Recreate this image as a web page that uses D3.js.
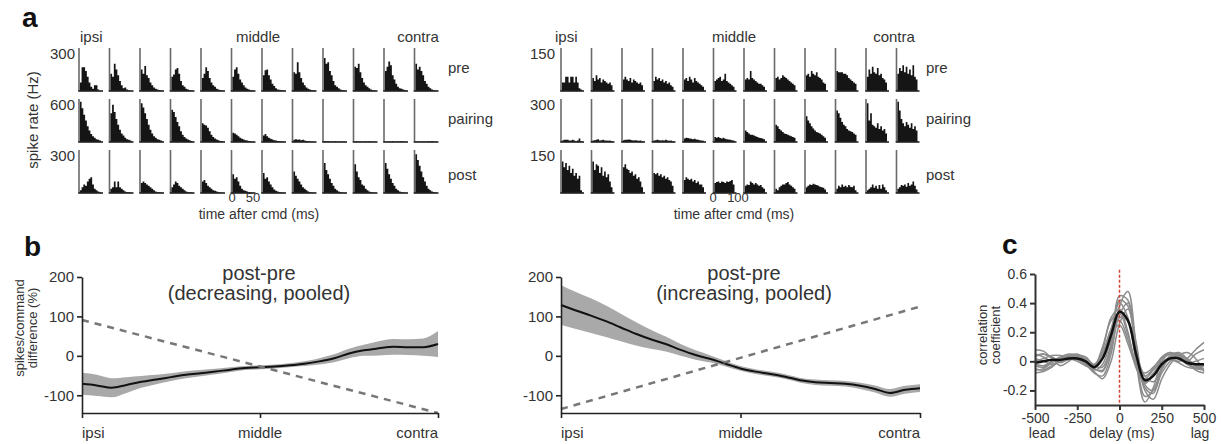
<!DOCTYPE html>
<html><head><meta charset="utf-8">
<script src="https://cdn.jsdelivr.net/npm/d3@7"></script>
<style>
body{margin:0;background:#fff;}
svg text{font-family:Arial,"Liberation Sans",sans-serif;fill:#333;}
</style></head><body>
<svg id="chart" width="1221" height="444"></svg>
<script>
// ---------- Panel a data (spike rate, Hz; 12 sites ipsi -> contra, 12 bins each) ----------
const rowLabels = ["pre", "pairing", "post"];
const siteLabels = ["ipsi", "middle", "contra"];
const leftRowMax = [300, 600, 300];
const rightRowMax = [150, 300, 150];
const leftTickLabels = ["300", "600", "300"];
const rightTickLabels = ["150", "300", "150"];

const leftPre = [
  [60,165,165,140,100,60,30,15,40,40,10,0],
  [120,100,190,150,110,70,40,20,25,10,5,0],
  [150,120,175,110,90,60,40,25,15,10,5,3],
  [100,115,150,160,120,70,40,30,15,10,5,3],
  [90,120,165,140,90,60,40,30,15,10,5,3],
  [100,150,165,120,80,60,40,25,15,10,5,3],
  [110,145,150,110,80,50,35,20,10,8,5,3],
  [130,120,200,130,90,60,40,25,15,10,5,3],
  [230,190,200,140,110,70,40,30,20,10,5,3],
  [170,160,190,130,90,60,40,30,20,10,5,3],
  [140,170,205,180,110,80,50,30,20,15,10,5],
  [190,150,170,140,110,70,50,30,20,10,5,3]
];
const leftPairing = [
  [560,470,380,300,220,160,110,80,60,40,30,20],
  [400,520,420,320,240,170,120,90,60,40,30,20],
  [540,480,400,320,240,170,120,80,60,40,30,20],
  [450,420,350,280,220,150,100,70,50,35,25,15],
  [260,240,230,200,150,100,70,50,35,25,15,10],
  [130,120,100,80,60,45,35,25,20,15,10,5],
  [90,110,80,60,45,35,25,20,15,10,8,5],
  [30,40,30,35,25,30,20,15,10,8,5,5],
  [10,8,10,5,8,5,10,5,5,8,5,3],
  [5,10,5,8,5,5,8,5,10,5,5,3],
  [5,5,8,5,10,5,5,8,5,15,5,3],
  [5,8,5,5,8,5,5,10,5,15,5,3]
];
const leftPost = [
  [20,40,60,50,80,100,110,60,30,20,10,5],
  [30,40,80,40,80,40,30,20,10,5,5,3],
  [70,80,70,60,50,40,30,20,10,5,5,3],
  [40,60,80,70,50,40,30,20,10,5,5,3],
  [80,90,70,50,40,30,20,15,10,5,3,2],
  [130,100,110,80,50,30,20,15,10,5,3,2],
  [140,100,110,80,60,40,25,15,10,5,3,2],
  [150,120,100,80,60,40,30,20,10,5,3,2],
  [210,160,130,100,70,50,30,20,10,5,3,2],
  [200,150,110,90,60,50,30,20,10,5,3,2],
  [210,170,130,100,70,50,30,20,10,5,3,2],
  [270,230,190,150,110,80,50,30,20,10,5,3]
];
const rightPre = [
  [30,30,50,50,30,50,50,30,50,30,10,5],
  [45,35,55,40,45,30,40,35,30,25,30,20],
  [40,50,40,35,45,30,40,35,30,25,30,20],
  [35,50,40,45,35,40,30,35,25,30,20,15],
  [40,45,35,50,40,30,45,35,30,25,20,15],
  [35,40,45,50,35,40,60,35,30,25,20,15],
  [40,45,40,70,45,40,35,30,25,25,20,15],
  [45,50,40,45,55,50,45,40,35,30,25,20],
  [55,60,50,70,60,55,65,50,45,40,30,25],
  [70,65,65,65,60,60,55,45,40,35,30,25],
  [50,75,60,85,65,60,80,55,60,45,40,30],
  [60,80,70,90,65,85,60,75,55,90,50,40]
];
const rightPairing = [
  [10,15,15,15,10,10,15,10,5,10,25,5],
  [10,12,15,20,10,12,15,10,10,8,10,5],
  [12,15,15,18,15,12,10,12,10,8,10,5],
  [10,12,15,12,10,12,10,15,10,8,10,5],
  [25,30,28,25,22,20,22,18,15,12,10,8],
  [35,30,35,28,25,30,22,20,18,15,12,10],
  [80,70,60,50,50,45,40,35,30,28,25,20],
  [120,110,90,80,70,60,55,50,45,40,35,30],
  [180,150,130,110,95,80,70,65,60,50,40,30],
  [220,200,170,140,120,110,90,80,75,70,60,50],
  [270,150,200,120,110,100,130,90,110,80,90,60],
  [280,220,160,130,110,140,120,100,130,90,110,80]
];
const rightPost = [
  [110,90,105,80,95,70,85,60,70,50,60,10],
  [110,80,100,95,70,90,60,75,55,65,40,20],
  [90,100,85,80,70,75,60,65,50,55,40,20],
  [70,65,70,60,65,55,60,50,55,45,40,25],
  [45,55,50,45,50,40,45,35,40,30,30,20],
  [35,38,40,35,40,38,35,40,38,42,45,30],
  [25,30,28,40,35,30,35,30,25,28,20,15],
  [15,10,20,25,30,30,35,38,30,25,20,15],
  [20,25,30,28,32,30,28,25,22,20,18,12],
  [15,25,20,30,22,25,20,28,22,20,25,10],
  [10,15,20,30,18,25,15,28,15,30,20,10],
  [15,20,28,25,30,22,35,25,30,40,25,12]
];

// ---------- Panel b data (post-pre difference, %, 25 sites ipsi -> contra) ----------
const bPositions = [0,1,2,3,4,5,6,7,8,9,10,11,12,13,14,15,16,17,18,19,20,21,22,23,24];
const bSiteTicks = [0, 12, 24];
const bYTicks = [-100, 0, 100, 200];
const bYTickLabels = ["-100", "0", "100", "200"];
const decMean = [-71,-75,-81,-74,-66,-60,-54,-48,-44,-40,-35,-31,-29,-27,-24,-20,-14,-6,6,14,19,23,22,22,30];
const decSem  = [28,27,24,20,15,12,10,9,8,7,6,5,5,5,5,6,8,10,12,14,18,20,20,22,33];
const decPrediction = [91, -145];
const incMean = [129,115,102,88,72,56,42,30,15,2,-8,-20,-32,-40,-46,-53,-62,-67,-69,-71,-76,-84,-94,-86,-82];
const incSem  = [50,47,44,40,35,30,24,19,15,12,9,7,6,6,6,6,6,7,7,7,8,9,10,10,10];
const incPrediction = [-135, 125];
const predPositions = [0, 24];

// ---------- Panel c data (cross-correlation vs delay) ----------
const delays = [-500,-450,-400,-350,-300,-250,-200,-150,-100,-50,0,50,100,150,200,250,300,350,400,450,500];
const cXTicks = [-500,-250,0,250,500];
const cXTickLabels = ["-500","-250","0","250","500"];
const cYTicks = [-0.2,0,0.2,0.4,0.6];
const cYTickLabels = ["-0.2","0","0.2","0.4","0.6"];
const corrTraces = [
  [0.03,0.05,0.02,-0.01,0.02,0.04,0.00,-0.05,-0.07,0.10,0.45,0.42,-0.02,-0.28,-0.18,0.00,0.05,0.03,-0.02,-0.04,-0.03],
  [0.08,0.07,0.02,-0.03,0.00,0.04,0.03,-0.03,-0.04,0.12,0.42,0.38,0.02,-0.24,-0.20,-0.04,0.04,0.06,0.02,-0.03,-0.05],
  [-0.05,-0.06,-0.03,0.00,0.03,0.03,-0.02,-0.08,-0.10,0.05,0.38,0.48,0.10,-0.18,-0.22,-0.06,0.03,0.05,0.00,-0.06,-0.08],
  [0.00,0.02,0.04,0.04,0.02,0.00,-0.03,-0.05,0.02,0.22,0.40,0.30,0.00,-0.15,-0.10,0.02,0.06,0.03,-0.01,0.00,0.02],
  [-0.08,-0.07,-0.04,0.01,0.04,0.03,-0.01,-0.04,0.08,0.30,0.36,0.20,-0.04,-0.12,-0.06,0.00,0.02,0.00,0.02,0.08,0.13],
  [0.05,0.03,0.00,0.01,0.03,0.02,-0.01,-0.03,0.10,0.28,0.33,0.18,-0.02,-0.10,-0.05,0.03,0.06,0.04,0.00,0.05,0.08],
  [-0.03,-0.04,0.00,0.03,0.05,0.04,0.00,-0.06,-0.02,0.15,0.30,0.28,0.05,-0.10,-0.14,-0.05,0.02,0.03,-0.02,-0.05,-0.06],
  [0.02,0.00,-0.02,0.00,0.02,0.01,-0.02,-0.07,-0.12,0.00,0.26,0.36,0.12,-0.16,-0.20,-0.08,0.00,0.04,0.01,-0.03,-0.02],
  [-0.06,-0.05,-0.01,0.02,0.03,0.02,0.00,-0.03,0.05,0.22,0.28,0.15,-0.05,-0.15,-0.08,-0.02,0.01,-0.01,-0.04,-0.05,-0.05],
  [0.04,0.05,0.03,0.00,0.01,0.03,0.02,-0.02,0.06,0.20,0.25,0.12,-0.03,-0.08,-0.04,0.02,0.05,0.05,0.01,-0.02,-0.02],
  [-0.02,-0.03,0.00,0.02,0.04,0.05,0.01,-0.05,-0.06,0.08,0.32,0.40,0.08,-0.20,-0.26,-0.12,-0.02,0.04,0.06,0.02,-0.07]
];
const corrMean = [-0.01,0.00,0.01,0.01,0.02,0.02,0.00,-0.04,0.02,0.18,0.34,0.28,0.04,-0.13,-0.10,-0.02,0.02,0.02,-0.01,-0.02,-0.02];

// ================= drawing =================
const svg = d3.select("#chart");
svg.append("rect").attr("width",1221).attr("height",444).attr("fill","#fff");

function label(g, x, y, txt, opts = {}) {
  const t = g.append("text").attr("x", x).attr("y", y).text(txt)
    .attr("font-size", opts.size || 15)
    .attr("text-anchor", opts.anchor || "start");
  if (opts.bold) t.attr("font-weight", "bold").style("fill", "#111");
  if (opts.rotate) t.attr("transform", `rotate(-90,${x},${y})`);
  return t;
}

// ----- Panel a -----
function histPanel(cfg) {
  const g = svg.append("g");
  const colX = d3.scaleLinear().domain([0, 11]).range(cfg.colRange);
  const rowBase = d3.scaleLinear().domain([0, 2]).range([91, 193]);
  const histH = 43, histW = cfg.histW;
  cfg.rows.forEach((rowData, r) => {
    const yb = rowBase(r);
    const y = d3.scaleLinear().domain([0, cfg.rowMax[r]]).range([yb, yb - histH]);
    rowData.forEach((vals, c) => {
      const x0 = colX(c);
      const x = d3.scaleLinear().domain([0, vals.length]).range([x0 + 0.8, x0 + histW - 2]);
      const pts = vals.map((v, i) => [i, v]).concat([[vals.length, vals[vals.length - 1]]]);
      const area = d3.area().x(d => x(d[0])).y0(yb).y1(d => y(d[1])).curve(d3.curveStepAfter);
      g.append("path").attr("d", area(pts)).attr("fill", "#151515");
      g.append("line").attr("x1", x0).attr("x2", x0).attr("y1", yb - histH).attr("y2", yb)
        .attr("stroke", "#6a6a6a").attr("stroke-width", 1.6);
      g.append("line").attr("x1", x0 - 0.8).attr("x2", x0 + histW).attr("y1", yb).attr("y2", yb)
        .attr("stroke", "#222").attr("stroke-width", 1.6);
    });
    label(g, cfg.tickX, yb - histH + 11, cfg.tickLabels[r], {anchor: "end", size: 15});
    label(g, cfg.rowLabelX, [73, 124, 180][r], rowLabels[r], {size: 15});
  });
  label(g, cfg.siteX[0], 42, siteLabels[0], {anchor: "start"});
  label(g, cfg.siteX[1], 42, siteLabels[1], {anchor: "middle"});
  label(g, cfg.siteX[2], 42, siteLabels[2], {anchor: "middle"});
  label(g, cfg.zeroX, 202, "0", {anchor: "middle", size: 13});
  label(g, cfg.scaleX, 202, cfg.scaleLabel, {anchor: "middle", size: 13});
  label(g, cfg.titleX, 219, "time after cmd (ms)", {anchor: "middle", size: 14});
}
histPanel({rows: [leftPre, leftPairing, leftPost], rowMax: leftRowMax, tickLabels: leftTickLabels,
  colRange: [79, 414.5], histW: 24, tickX: 75, rowLabelX: 448,
  siteX: [80, 258, 418], zeroX: 232, scaleX: 253, scaleLabel: "50", titleX: 259});
histPanel({rows: [rightPre, rightPairing, rightPost], rowMax: rightRowMax, tickLabels: rightTickLabels,
  colRange: [561, 896.5], histW: 23, tickX: 555, rowLabelX: 926,
  siteX: [555, 734, 894], zeroX: 713, scaleX: 738, scaleLabel: "100", titleX: 734});
label(svg, 22, 27, "a", {bold: true, size: 28});
label(svg, 38, 120, "spike rate (Hz)", {anchor: "middle", rotate: true, size: 15});

// ----- Panel b -----
const by = d3.scaleLinear().domain([-145, 200]).range([413, 277]);
function diffPanel(cfg) {
  const g = svg.append("g");
  const x = d3.scaleLinear().domain([0, 24]).range(cfg.xRange);
  const band = d3.area().x((d, i) => x(bPositions[i]))
    .y0((d, i) => by(cfg.mean[i] - cfg.sem[i])).y1((d, i) => by(cfg.mean[i] + cfg.sem[i]))
    .curve(d3.curveMonotoneX);
  g.append("path").attr("d", band(cfg.mean)).attr("fill", "#a9a9a9");
  const line = d3.line().x((d, i) => x(bPositions[i])).y(d => by(d)).curve(d3.curveMonotoneX);
  g.append("path").attr("d", line(cfg.mean)).attr("fill", "none").attr("stroke", "#111").attr("stroke-width", 2);
  const pl = d3.line().x((d, i) => x(predPositions[i])).y(d => by(d));
  g.append("path").attr("d", pl(cfg.pred)).attr("fill", "none").attr("stroke", "#777")
    .attr("stroke-width", 2.5).attr("stroke-dasharray", "7,6");
  const ya = g.append("g").attr("transform", `translate(${cfg.xRange[0]},0)`)
    .call(d3.axisLeft(by).tickValues(bYTicks).tickSize(5).tickSizeOuter(0)
      .tickFormat((d, i) => bYTickLabels[i]));
  const xa = g.append("g").attr("transform", `translate(0,413)`)
    .call(d3.axisBottom(x).tickValues(bSiteTicks).tickSize(5).tickSizeOuter(0).tickFormat(""));
  [ya, xa].forEach(a => {
    a.select(".domain").attr("stroke", "#222").attr("stroke-width", 1.6);
    a.selectAll(".tick line").attr("stroke", "#222").attr("stroke-width", 1.6);
    a.selectAll("text").attr("font-size", 15).style("fill", "#333").attr("font-family", "Arial, 'Liberation Sans', sans-serif");
  });
  label(g, x(0), 438, siteLabels[0], {anchor: "start", size: 15});
  label(g, x(12), 438, siteLabels[1], {anchor: "middle", size: 15});
  label(g, x(24), 438, siteLabels[2], {anchor: "end", size: 15});
  label(g, cfg.titleX, 280, "post-pre", {anchor: "middle", size: 20});
  label(g, cfg.titleX, 300, cfg.subtitle, {anchor: "middle", size: 20});
}
diffPanel({mean: decMean, sem: decSem, pred: decPrediction, xRange: [82, 438], titleX: 259, subtitle: "(decreasing, pooled)"});
diffPanel({mean: incMean, sem: incSem, pred: incPrediction, xRange: [561, 920], titleX: 744, subtitle: "(increasing, pooled)"});
label(svg, 24, 256, "b", {bold: true, size: 28});
label(svg, 24, 328, "spikes/command", {anchor: "middle", rotate: true, size: 13});
label(svg, 37, 328, "difference (%)", {anchor: "middle", rotate: true, size: 13});

// ----- Panel c -----
const cx = d3.scaleLinear().domain([-500, 500]).range([1035, 1204]);
const cy = d3.scaleLinear().domain([-0.3, 0.6]).range([405, 274]);
const cg = svg.append("g");
const cline = d3.line().x((d, i) => cx(delays[i])).y(d => cy(d)).curve(d3.curveCatmullRom.alpha(0.5));
corrTraces.forEach(tr => {
  cg.append("path").attr("d", cline(tr)).attr("fill", "none").attr("stroke", "#8c8c8c").attr("stroke-width", 1.5);
});
cg.append("line").attr("x1", cx(0)).attr("x2", cx(0)).attr("y1", cy(0.63)).attr("y2", cy(-0.3))
  .attr("stroke", "#d0453a").attr("stroke-width", 1.5).attr("stroke-dasharray", "3,2");
cg.append("path").attr("d", cline(corrMean)).attr("fill", "none").attr("stroke", "#111").attr("stroke-width", 2.5);
const cya = cg.append("g").attr("transform", `translate(1035,0)`)
  .call(d3.axisLeft(cy).tickValues(cYTicks).tickSize(5).tickSizeOuter(0).tickFormat((d, i) => cYTickLabels[i]));
const cxa = cg.append("g").attr("transform", `translate(0,405)`)
  .call(d3.axisBottom(cx).tickValues(cXTicks).tickSize(5).tickSizeOuter(0).tickFormat((d, i) => cXTickLabels[i]));
[cya, cxa].forEach(a => {
  a.select(".domain").attr("stroke", "#333").attr("stroke-width", 2);
  a.selectAll(".tick line").attr("stroke", "#333").attr("stroke-width", 2);
  a.selectAll("text").attr("font-size", 14).style("fill", "#333").attr("font-family", "Arial, 'Liberation Sans', sans-serif");
});
label(cg, 1042, 438, "lead", {anchor: "middle", size: 14});
label(cg, 1122, 438, "delay (ms)", {anchor: "middle", size: 14});
label(cg, 1200, 438, "lag", {anchor: "middle", size: 14});
label(svg, 1002, 254, "c", {bold: true, size: 28});
label(svg, 987, 335, "correlation", {anchor: "middle", rotate: true, size: 13});
label(svg, 1000, 335, "coefficient", {anchor: "middle", rotate: true, size: 13});
</script></body></html>
